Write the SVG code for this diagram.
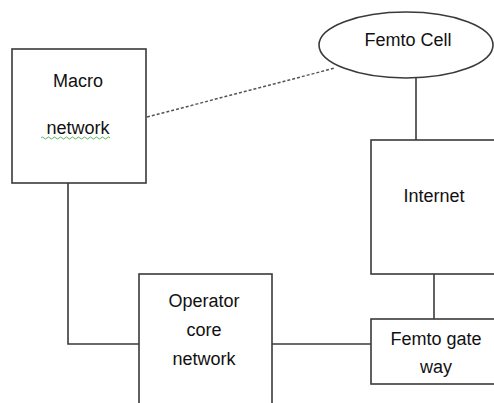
<svg xmlns="http://www.w3.org/2000/svg" width="494" height="403" viewBox="0 0 494 403">
<style>
.box{fill:#fff;stroke:#3a3a3a;stroke-width:1.6}
.ln{fill:none;stroke:#3a3a3a;stroke-width:1.6}
.dash{fill:none;stroke:#555;stroke-width:1.5;stroke-dasharray:3 2}
.t{font-family:"Liberation Sans",Arial,sans-serif;font-size:18px;fill:#111;text-anchor:middle}
</style>
<rect width="494" height="403" fill="#fff"/>
<g id="connectors">
<line class="dash" x1="147" y1="117" x2="335" y2="68"/>
<line class="ln" x1="416" y1="78" x2="416" y2="140"/>
<line class="ln" x1="434" y1="274" x2="434" y2="319"/>
<polyline class="ln" points="68,183 68,344 139,344"/>
<line class="ln" x1="272" y1="344" x2="371" y2="344"/>
</g>
<g id="macro">
<rect class="box" x="12" y="49" width="134" height="134"/>
<text class="t" x="78" y="87">Macro</text>
<text class="t" x="78" y="134">network</text>
<path d="M41,138 q1.5,-2 3,0 t3,0 t3,0 t3,0 t3,0 t3,0 t3,0 t3,0 t3,0 t3,0 t3,0 t3,0 t3,0 t3,0 t3,0 t3,0 t3,0 t3,0 t3,0 t3,0 t3,0 t3,0 t3,0" fill="none" stroke="#5cb85c" stroke-width="1"/>
</g>
<g id="femtocell">
<ellipse class="box" cx="406" cy="45" rx="87" ry="33"/>
<text class="t" x="408" y="46">Femto Cell</text>
</g>
<g id="internet">
<rect class="box" x="371" y="140" width="140" height="134"/>
<text class="t" x="434" y="202">Internet</text>
</g>
<g id="operator">
<rect class="box" x="139" y="274" width="133" height="140"/>
<text class="t" x="204" y="307">Operator</text>
<text class="t" x="204" y="336">core</text>
<text class="t" x="204" y="365">network</text>
</g>
<g id="gateway">
<rect class="box" x="371" y="319" width="140" height="65"/>
<text class="t" x="436" y="345">Femto gate</text>
<text class="t" x="436" y="373">way</text>
</g>
</svg>
